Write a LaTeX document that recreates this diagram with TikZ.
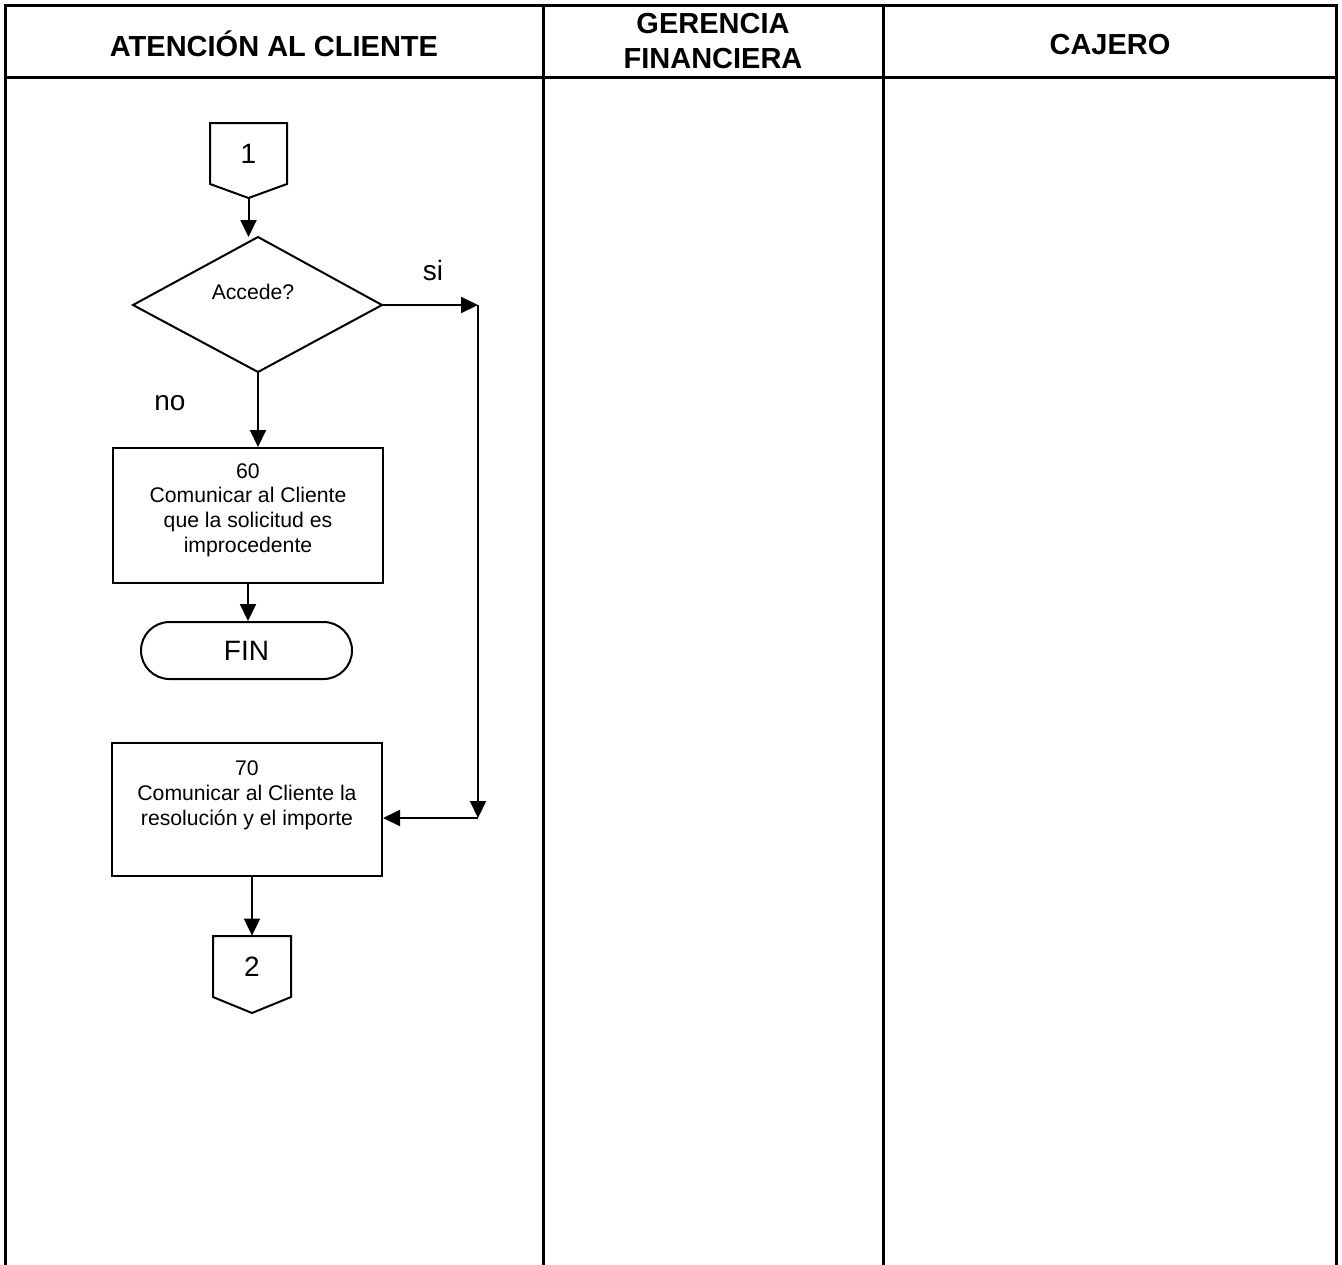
\documentclass[tikz,border=0pt]{standalone}
\usepackage{fontspec}
\setmainfont{Liberation Sans}
\usetikzlibrary{arrows.meta}
\tikzset{
  frameline/.style={line width=1.5pt, line cap=rect},
  flow/.style={line width=1pt, -{Triangle[length=8.5pt,width=8pt]}},
  plain/.style={line width=1pt},
  procbox/.style={draw, line width=1pt, rectangle, inner sep=0pt},
  hdr/.style={font=\fontsize{14.5}{17.5}\selectfont\bfseries, align=center},
  bigtxt/.style={font=\fontsize{14}{16}\selectfont},
  smalltxt/.style={font=\fontsize{10.6}{12.4}\selectfont, align=center},
}
\begin{document}
\begin{tikzpicture}[x=0.5pt,y=-0.5pt]
\useasboundingbox (0,0) rectangle (1342,1264);
% frame
\coordinate (tl) at (5,5);
\coordinate (tr) at (1336,5);
\coordinate (bl) at (5,1264);
\coordinate (br) at (1336,1264);
\coordinate (d1t) at (543,5);
\coordinate (d1b) at (543,1264);
\coordinate (d2t) at (883,5);
\coordinate (d2b) at (883,1264);
\coordinate (hl) at (5,77);
\coordinate (hr) at (1336,77);
\draw[frameline] (bl) -- (tl) -- (tr) -- (br);
\draw[frameline] (d1t) -- (d1b);
\draw[frameline] (d2t) -- (d2b);
\draw[frameline] (hl) -- (hr);
% headers
\node[hdr] (h1) at (274,44) {ATENCIÓN AL CLIENTE};
\node[hdr] (h2) at (713,41) {GERENCIA\\FINANCIERA};
\node[hdr] (h3) at (1110,45) {CAJERO};
% connector 1
\node[bigtxt, minimum width=38.5pt, minimum height=30pt] (c1) at (248.5,153.5) {1};
\coordinate (c1p) at (248.5,198);
\draw[plain] (210,123) -- (287,123) -- (287,184) -- (c1p) -- (210,184) -- cycle;
% decision
\coordinate (dN) at (258,237);
\coordinate (dE) at (382,305);
\coordinate (dS) at (258,372);
\coordinate (dW) at (133,305);
\draw[plain] (dN) -- (dE) -- (dS) -- (dW) -- cycle;
\node[smalltxt] (acc) at (253,292) {Accede?};
\draw[flow] (c1p) -- (248.5,237);
\node[bigtxt] (si) at (433,270) {si};
\node[bigtxt] (no) at (170,403) {no};
% box 60
\node[procbox, minimum width=135pt, minimum height=67.5pt] (b60) at (248,515.5) {};
\node[smalltxt] (t60) at (248,510) {60\\Comunicar al Cliente\\que la solicitud es\\improcedente};
\draw[flow] (dS) -- (dS |- b60.north);
% FIN
\node[draw, line width=1pt, rounded corners=14.25pt, minimum width=105.5pt, minimum height=28.5pt, bigtxt] (fin) at (246.5,650.5) {FIN};
\draw[flow] (b60.south) -- (b60.south |- fin.north);
% box 70
\node[procbox, minimum width=135pt, minimum height=66.5pt] (b70) at (247,809.5) {};
\node[smalltxt, anchor=north] (t70) at (247,754) {70\\Comunicar al Cliente la\\resolución y el importe};
% si path
\coordinate (k1) at (478,305);
\coordinate (k2) at (478,818);
\draw[flow] (dE) -- (k1);
\draw[flow] (k1) -- (k2);
\draw[flow] (k2) -- (k2 -| b70.east);
% connector 2
\node[bigtxt, minimum width=39pt, minimum height=30.5pt] (c2) at (252,966.5) {2};
\draw[flow] (b70.south -| c2.north) -- (c2.north);
\coordinate (c2p) at (252,1013);
\draw[plain] (213,936) -- (291,936) -- (291,997) -- (c2p) -- (213,997) -- cycle;
\end{tikzpicture}
\end{document}
